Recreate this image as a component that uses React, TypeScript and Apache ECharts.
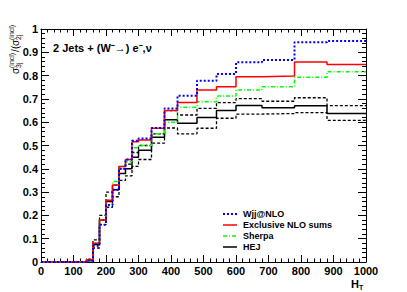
import React, { useEffect, useRef } from "react";
import * as echarts from "echarts";

const binEdges = [0, 140, 160, 180, 200, 220, 240, 260, 280, 300, 340, 380, 420, 480, 540, 600, 680, 780, 880, 1000];

const wjjNLO = [0, 0.005, 0.07, 0.16, 0.245, 0.31, 0.40, 0.44, 0.52, 0.53, 0.575, 0.659, 0.714, 0.778, 0.807, 0.857, 0.867, 0.943, 0.948];
const exclNLO = [0, 0.01, 0.08, 0.18, 0.265, 0.33, 0.41, 0.44, 0.516, 0.524, 0.574, 0.65, 0.685, 0.738, 0.752, 0.795, 0.798, 0.858, 0.848];
const sherpa = [0, 0.01, 0.08, 0.18, 0.265, 0.345, 0.41, 0.43, 0.49, 0.50, 0.55, 0.60, 0.664, 0.688, 0.712, 0.738, 0.752, 0.793, 0.817];
const hej = [0, 0.01, 0.075, 0.18, 0.26, 0.31, 0.38, 0.40, 0.45, 0.48, 0.535, 0.61, 0.595, 0.62, 0.65, 0.672, 0.662, 0.671, 0.637];
const hejUp = [0, 0.012, 0.095, 0.20, 0.30, 0.33, 0.40, 0.42, 0.47, 0.50, 0.55, 0.65, 0.631, 0.659, 0.684, 0.701, 0.690, 0.705, 0.671];
const hejLow = [0, 0.005, 0.06, 0.16, 0.235, 0.28, 0.35, 0.37, 0.41, 0.44, 0.51, 0.575, 0.55, 0.574, 0.617, 0.635, 0.637, 0.641, 0.608];

const legendLabels = ["Wjj@NLO", "Exclusive NLO sums", "Sherpa", "HEJ"];
const xTicks = { min: 0, max: 1000, interval: 100 };
const yTicks = { min: 0, max: 1, interval: 0.1 };

function histData(vals: number[]) {
  const d: number[][] = vals.map((v, i) => [binEdges[i], v]);
  d.push([binEdges[binEdges.length - 1], vals[vals.length - 1]]);
  return d;
}

export default function App() {
  const ref = useRef<HTMLDivElement>(null);
  useEffect(() => {
    if (!ref.current) return;
    const chart = echarts.init(ref.current, undefined, { renderer: "svg" });
    const font = "'Liberation Sans', Arial, sans-serif";
    const mkX = (pos: "bottom" | "top", labels: boolean) => ({
      type: "value",
      position: pos,
      min: xTicks.min,
      max: xTicks.max,
      interval: xTicks.interval,
      axisLine: { show: true, onZero: false, lineStyle: { color: "#000", width: 1 } },
      axisTick: { show: true, inside: true, length: 7, lineStyle: { color: "#000" } },
      minorTick: { show: true, splitNumber: 5, length: 3.5, lineStyle: { color: "#000" } },
      splitLine: { show: false },
      axisLabel: {
        show: labels, color: "#000", fontFamily: font, fontWeight: "bold", fontSize: 11, margin: 3,
        formatter: (v: number) => String(v),
      },
    });
    const mkY = (pos: "left" | "right", labels: boolean) => ({
      type: "value",
      position: pos,
      min: yTicks.min,
      max: yTicks.max,
      interval: yTicks.interval,
      axisLine: { show: true, onZero: false, lineStyle: { color: "#000", width: 1 } },
      axisTick: { show: true, inside: true, length: 8, lineStyle: { color: "#000" } },
      minorTick: { show: true, splitNumber: 5, length: 4, lineStyle: { color: "#000" } },
      splitLine: { show: false },
      axisLabel: { show: labels, color: "#000", fontFamily: font, fontWeight: "bold", fontSize: 11, margin: 3 },
    });
    const line = (data: number[], color: string, type: any, width: number, z: number) => ({
      type: "line",
      step: "end",
      data: histData(data),
      symbol: "none",
      z,
      lineStyle: { color, type, width },
    });
    const lx0 = 223, lx1 = 237, ltx = 243, ly = [214, 225, 236, 247];
    const lstyles: any[] = [
      { stroke: "#0000ff", lineWidth: 2, lineDash: [2, 2] },
      { stroke: "#ff0000", lineWidth: 1.5 },
      { stroke: "#00ff00", lineWidth: 1.5, lineDash: [4, 2, 1, 2] },
      { stroke: "#000", lineWidth: 1.5 },
    ];
    const graphic: any[] = [];
    legendLabels.forEach((t, i) => {
      graphic.push({ type: "line", shape: { x1: lx0, y1: ly[i], x2: lx1, y2: ly[i] }, style: lstyles[i] });
      graphic.push({
        type: "text", x: ltx, y: ly[i],
        style: { text: t, fill: "#000", font: `bold 9px ${font}`, textVerticalAlign: "middle" },
      });
    });
    graphic.push({
      type: "text", x: 53, y: 48,
      style: { text: "2 Jets + (W\u207B\u2192) e\u207B,\u03BD", fill: "#000", font: `bold 11px ${font}`, textVerticalAlign: "middle" },
    });
    graphic.push({
      type: "text", x: 351, y: 284,
      style: { text: "H", fill: "#000", font: `bold 11px ${font}`, textVerticalAlign: "middle" },
    });
    graphic.push({
      type: "text", x: 359, y: 287,
      style: { text: "T", fill: "#000", font: `bold 7px ${font}`, textVerticalAlign: "middle" },
    });
    const tf = (s: string, x: number, y: number, size: number) => ({
      type: "text", x, y,
      style: { text: s, fill: "#000", font: `${size}px ${font}`, textVerticalAlign: "middle" },
    });
    graphic.push({
      type: "group", x: 15, y: 74, rotation: Math.PI / 2,
      children: [
        tf("\u03C3", 0, 0, 10),
        tf("3j", 6, 3, 7),
        tf("(incl)", 6, -4, 7),
        tf("/", 22, 0, 10),
        tf("(", 25, 0, 10),
        tf("\u03C3", 28, 0, 10),
        tf("2j", 34, 3, 7),
        tf("(incl)", 34, -4, 7),
      ],
    });
    chart.setOption({
      animation: false,
      grid: { left: 41, right: 41, top: 29, bottom: 30 },
      xAxis: [mkX("bottom", true), mkX("top", false)],
      yAxis: [mkY("left", true), mkY("right", false)],
      series: [
        line(hejUp, "#000", [3, 2], 1.3, 2),
        line(hejLow, "#000", [3, 2], 1.3, 2),
        line(hej, "#000", "solid", 1.5, 3),
        line(sherpa, "#00ff00", [4, 2, 1, 2], 1.5, 4),
        line(exclNLO, "#ff0000", "solid", 1.5, 5),
        line(wjjNLO, "#0000ff", [2, 2], 2, 6),
      ],
      graphic,
    });
    return () => chart.dispose();
  }, []);
  return <div ref={ref} style={{ position: "fixed", left: 0, top: 0, width: 407, height: 292, background: "#fff" }} />;
}
